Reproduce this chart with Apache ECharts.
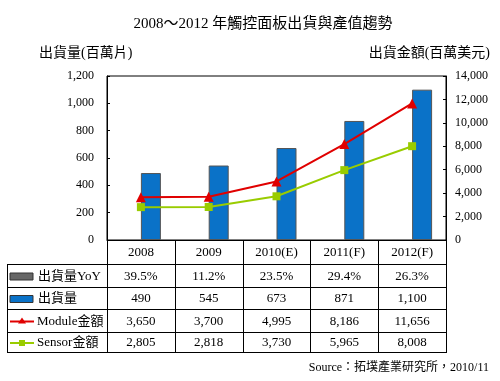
<!DOCTYPE html>
<html>
<head>
<meta charset="utf-8">
<script src="https://cdn.jsdelivr.net/npm/echarts@6/dist/echarts.min.js"></script>
<style>
html,body{margin:0;padding:0;background:#fff;}
#chart{width:500px;height:381px;}
</style>
</head>
<body>
<div id="chart"></div>
<script>
// ---- data ----
const categories = ['2008', '2009', '2010(E)', '2011(F)', '2012(F)'];
const yoyPercent = [39.5, 11.2, 23.5, 29.4, 26.3];
const shipments = [490, 545, 673, 871, 1100];
const moduleValue = [3650, 3700, 4995, 8186, 11656];
const sensorValue = [2805, 2818, 3730, 5965, 8008];
const rowLabels = ['出貨量YoY', '出貨量', 'Module金額', 'Sensor金額'];
const titleText = '2008～2012 年觸控面板出貨與產值趨勢';
const leftAxisName = '出貨量(百萬片)';
const rightAxisName = '出貨金額(百萬美元)';
const sourceText = 'Source：拓墣產業研究所，2010/11';

// ---- layout ----
const FONT = '"Liberation Serif", "Noto Sans CJK TC", serif';
const plotL = 107, plotR = 446, plotT = 76, plotB = 240;
const tableL = 7;
const rowLines = [240, 264, 287, 309, 332, 352];
const colW = (plotR - plotL) / categories.length;
const fmt = v => v.toLocaleString('en-US');
const rowValues = [
  yoyPercent.map(v => v.toFixed(1) + '%'),
  shipments.map(fmt),
  moduleValue.map(fmt),
  sensorValue.map(fmt)
];

const colors = { yoy: '#666666', bar: '#0a72c8', module: '#e00000', sensor: '#99cc00' };

const graphics = [];
// title & axis names & source
graphics.push({ type: 'text', x: 263, y: 17, style: { text: titleText, font: '15px ' + FONT, fill: '#000', textAlign: 'center' } });
graphics.push({ type: 'text', x: 39, y: 46, style: { text: leftAxisName, font: '14px ' + FONT, fill: '#000' } });
graphics.push({ type: 'text', x: 490, y: 46, style: { text: rightAxisName, font: '14px ' + FONT, fill: '#000', textAlign: 'right' } });
graphics.push({ type: 'text', x: 489, y: 362, style: { text: sourceText, font: '12px ' + FONT, fill: '#000', textAlign: 'right' } });

// table lines
const lineStyle = { stroke: '#000', lineWidth: 1 };
rowLines.forEach((y, i) => {
  const x1 = i === 0 ? plotL : tableL;
  graphics.push({ type: 'line', shape: { x1: x1, y1: y + 0.5, x2: plotR + 0.5, y2: y + 0.5 }, style: lineStyle, z: 10 });
});
graphics.push({ type: 'line', shape: { x1: tableL + 0.5, y1: rowLines[1], x2: tableL + 0.5, y2: rowLines[5] + 1 }, style: lineStyle, z: 10 });
for (let i = 0; i <= categories.length; i++) {
  const x = Math.round(plotL + i * colW) + 0.5;
  graphics.push({ type: 'line', shape: { x1: x, y1: rowLines[0], x2: x, y2: rowLines[5] + 1 }, style: lineStyle, z: 10 });
}
// table cells
rowValues.forEach((vals, r) => {
  const yc = (rowLines[r + 1] + rowLines[r + 2]) / 2 + 1;
  vals.forEach((t, c) => {
    graphics.push({ type: 'text', x: plotL + (c + 0.5) * colW, y: yc,
      style: { text: t, font: '13px ' + FONT, fill: '#000', textAlign: 'center', textVerticalAlign: 'middle' } });
  });
  graphics.push({ type: 'text', x: r < 2 ? 38 : 37, y: yc,
    style: { text: rowLabels[r], font: '13px ' + FONT, fill: '#000', textAlign: 'left', textVerticalAlign: 'middle' } });
  // legend symbols
  if (r === 0 || r === 1) {
    graphics.push({ type: 'rect', shape: { x: 10, y: yc - 3.5, width: 23, height: 7 },
      style: { fill: r === 0 ? colors.yoy : colors.bar, stroke: '#333', lineWidth: 1 } });
  } else {
    const col = r === 2 ? colors.module : colors.sensor;
    graphics.push({ type: 'line', shape: { x1: 10, y1: yc, x2: 34, y2: yc }, style: { stroke: col, lineWidth: 2 } });
    if (r === 2) {
      graphics.push({ type: 'polygon', shape: { points: [[22, yc - 4], [18, yc + 2], [26, yc + 2]] }, style: { fill: col } });
    } else {
      graphics.push({ type: 'rect', shape: { x: 19, y: yc - 3, width: 6, height: 6 }, style: { fill: col } });
    }
  }
});

const chart = echarts.init(document.getElementById('chart'), null, { renderer: 'canvas' });
chart.setOption({
  animation: false,
  backgroundColor: '#fff',
  grid: { left: plotL, right: 500 - plotR, top: plotT, bottom: 381 - plotB, show: true, borderColor: '#000', borderWidth: 1 },
  xAxis: {
    type: 'category', data: categories,
    axisLine: { lineStyle: { color: '#000' } },
    axisTick: { show: false },
    axisLabel: { color: '#000', fontFamily: FONT, fontSize: 13, margin: 6 }
  },
  yAxis: [
    { type: 'value', min: 0, max: 1200, interval: 200,
      axisLine: { show: true, lineStyle: { color: '#000' } },
      axisTick: { show: true, inside: true, length: 3, lineStyle: { color: '#000' } },
      splitLine: { show: false },
      axisLabel: { color: '#000', fontFamily: FONT, fontSize: 12, margin: 13, formatter: v => fmt(v) } },
    { type: 'value', min: 0, max: 14000, interval: 2000,
      axisLine: { show: true, lineStyle: { color: '#000' } },
      axisTick: { show: true, inside: true, length: 3, lineStyle: { color: '#000' } },
      splitLine: { show: false },
      axisLabel: { color: '#000', fontFamily: FONT, fontSize: 12, margin: 9, formatter: v => fmt(v) } }
  ],
  series: [
    { name: rowLabels[0], type: 'bar', data: yoyPercent.map(v => v / 100), barWidth: 20, barGap: '0%',
      itemStyle: { color: colors.yoy } },
    { name: rowLabels[1], type: 'bar', data: shipments, barWidth: 20,
      itemStyle: { color: colors.bar, borderColor: '#555', borderWidth: 1 } },
    { name: rowLabels[2], type: 'line', yAxisIndex: 1, data: moduleValue, symbol: 'triangle', symbolSize: 10,
      lineStyle: { color: colors.module, width: 2 }, itemStyle: { color: colors.module } },
    { name: rowLabels[3], type: 'line', yAxisIndex: 1, data: sensorValue, symbol: 'rect', symbolSize: 8,
      lineStyle: { color: colors.sensor, width: 2 }, itemStyle: { color: colors.sensor } }
  ],
  graphic: graphics
});
</script>
</body>
</html>
